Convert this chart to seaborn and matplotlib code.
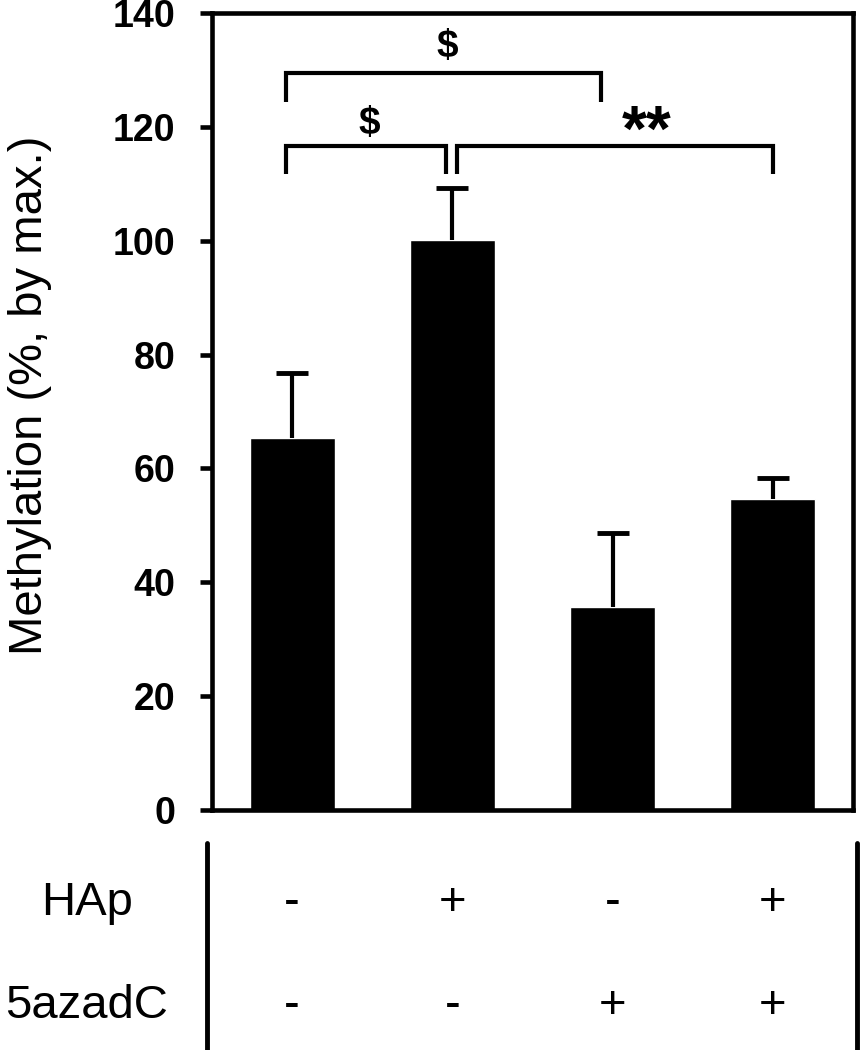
import numpy as np
import pandas as pd
import matplotlib
matplotlib.use("Agg")
import matplotlib.pyplot as plt
import matplotlib.transforms as mtransforms
from matplotlib.lines import Line2D
import seaborn as sns

# data
groups = ["ctrl", "HAp", "5azadC", "HAp+5azadC"]
methylation = [65.3, 100.2, 35.6, 54.7]
sem = [11.4, 9.1, 13.0, 3.7]
hap_row = ["-", "+", "-", "+"]
aza_row = ["-", "-", "+", "+"]

# significance brackets: (x start, x end, top y, leg bottom y)
brackets = [(-0.04, 1.93, 129.5, 124.4),
            (-0.04, 0.96, 116.7, 111.7),
            (1.03, 3.00, 116.7, 111.7)]
# significance marks: (x, baseline y, text, font size)
marks = [(0.97, 132.3, "$", 28),
         (0.48, 118.8, "$", 28),
         (2.21, 115.8, "**", 46)]

sns.set_style("white")
plt.rcParams["font.family"] = ["Liberation Sans", "DejaVu Sans"]
plt.rcParams.update({"text.color": "black", "axes.labelcolor": "black",
                     "xtick.color": "black", "ytick.color": "black"})

df = pd.DataFrame({"group": groups, "methylation": methylation})

fig = plt.figure(figsize=(8.6, 10.5), dpi=100)
ax = fig.add_axes([212 / 860, 1 - 810 / 1050, 641 / 860, 797 / 1050])

sns.barplot(data=df, x="group", y="methylation", color="black",
            saturation=1, width=0.53, errorbar=None, ax=ax)

# upper-only error bars
xpos = np.arange(len(groups))
tops = np.array(methylation) + np.array(sem)
ax.vlines(xpos, methylation, tops, color="black", lw=3)
ax.hlines(tops, xpos - 0.1, xpos + 0.1, color="black", lw=3.5)

for x1, x2, yt, yl in brackets:
    ax.plot([x1, x1, x2, x2], [yl, yt, yt, yl], color="black", lw=3,
            solid_joinstyle="miter", solid_capstyle="butt")
for x, y, s, fs in marks:
    ax.text(x, y, s, ha="center", va="baseline", fontsize=fs,
            fontweight="bold")

ax.set_xlim(-0.5, 3.5)
ax.set_ylim(0, 140)
ax.set_yticks(np.arange(0, 141, 20))
ax.set_xlabel("")
ax.set_ylabel("Methylation (%, by max.)", fontsize=34)
ax.yaxis.set_label_coords(-0.25, 0.52)
ax.tick_params(axis="y", direction="out", length=8.6, width=3.3, pad=18,
               labelsize=27, left=True)
ax.tick_params(axis="x", length=0, labelbottom=False)
for lab in ax.get_yticklabels():
    lab.set_fontweight("bold")
for sp in ax.spines.values():
    sp.set_linewidth(3.3)
    sp.set_color("black")
    sp.set_zorder(3)

# treatment table under the axes
trans = mtransforms.blended_transform_factory(ax.transData, fig.transFigure)
row_y = [1 - 915 / 1050, 1 - 1018 / 1050]
for ry, name, row in zip(row_y, ["HAp", "5azadC"], [hap_row, aza_row]):
    fig.text(87 / 860, ry, name, ha="center", va="baseline", fontsize=34)
    for i, s in enumerate(row):
        ax.text(i, ry, s, transform=trans, ha="center", va="baseline",
                fontsize=34, clip_on=False)

for lx in [207 / 860, 857 / 860]:
    fig.add_artist(Line2D([lx, lx], [0, 1 - 843 / 1050], color="black",
                          lw=3.5, transform=fig.transFigure))

fig.savefig("out.png", dpi=100)
